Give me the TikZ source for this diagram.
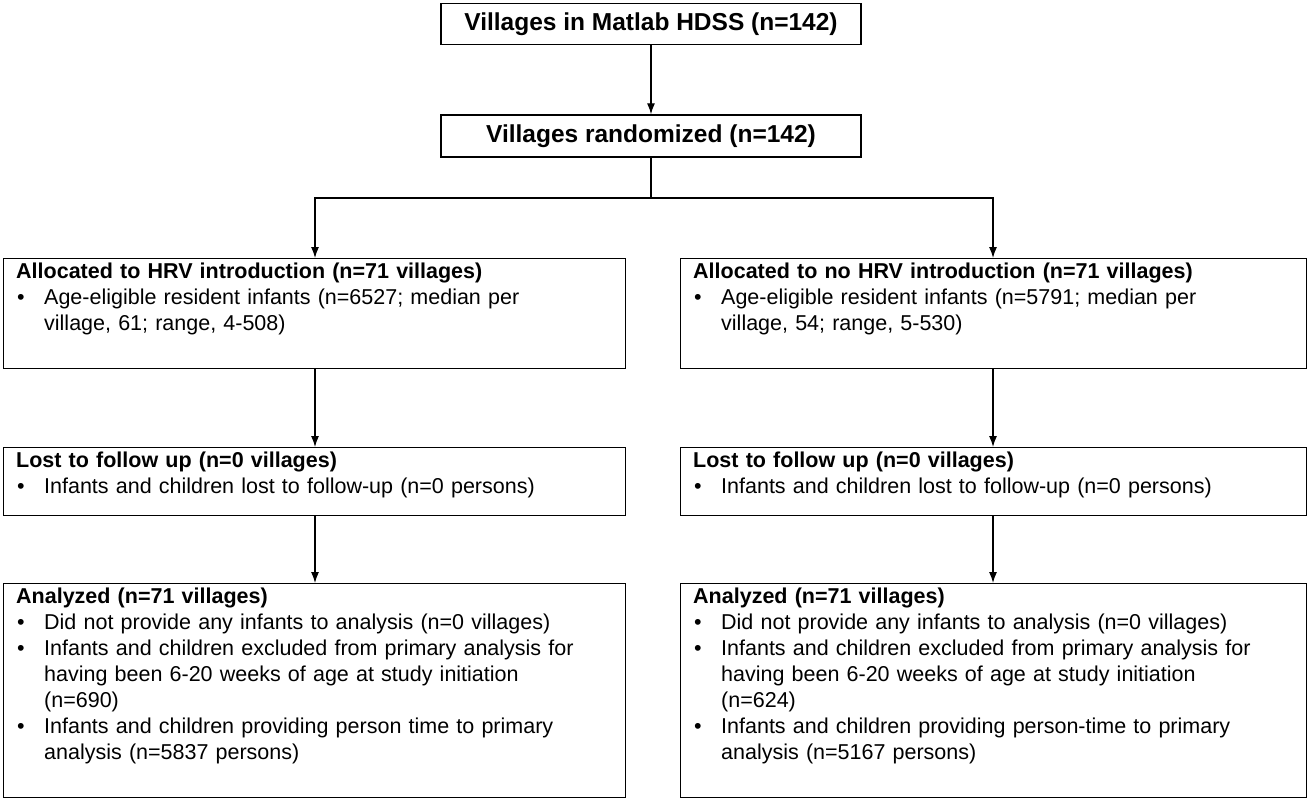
\documentclass[tikz,border=0pt]{standalone}
\usepackage{fontspec}
\setmainfont{Liberation Sans}
\usetikzlibrary{arrows.meta,positioning}
\newcommand{\bitem}[1]{\par\hangindent=28pt\hangafter=1\noindent\makebox[28pt][l]{\hspace{1pt}\textbullet}#1\par}
\begin{document}
\begin{tikzpicture}[x=1pt,y=-1pt,
      flowbox/.style={draw=black,line width=1.4pt,rectangle,inner sep=0pt},
      boxtext/.style={anchor=north west,inner sep=0pt,xshift=13pt,yshift=-5pt,
         text width=605pt,font=\fontsize{21.5}{26}\selectfont\raggedright},
      myarrow/.style={-{Latex[length=11pt,width=8pt]},line width=1.2pt}
      ]
      \useasboundingbox (0,0) rectangle (1309,800);
      % top
      \node[flowbox,minimum width=420pt,minimum height=41pt,
         font=\fontsize{24.5}{26}\selectfont\bfseries] (hdss) at (651,24) {Villages in Matlab HDSS (n=142)};
      \node[flowbox,minimum width=420pt,minimum height=42pt,
         font=\fontsize{24.5}{26}\selectfont\bfseries] (rand) at (651,136) {Villages randomized (n=142)};
      % left column
      \node[flowbox,anchor=north west,minimum width=622pt,minimum height=110pt] (alloc1) at (3,258) {};
      \node[flowbox,anchor=north west,minimum width=622pt,minimum height=68pt] (lost1) at (3,447) {};
      \node[flowbox,anchor=north west,minimum width=622pt,minimum height=214pt] (anal1) at (3,583) {};
      % right column
      \node[flowbox,anchor=north west,minimum width=626pt,minimum height=110pt] (alloc2) at (680,258) {};
      \node[flowbox,anchor=north west,minimum width=626pt,minimum height=68pt] (lost2) at (680,447) {};
      \node[flowbox,anchor=north west,minimum width=626pt,minimum height=214pt] (anal2) at (680,583) {};

      \node[boxtext] at (alloc1.north west) {\textbf{Allocated to HRV introduction (n=71 villages)}
         \bitem{Age-eligible resident infants (n=6527; median per\newline village, 61; range, 4-508)}};
      \node[boxtext] at (alloc2.north west) {\textbf{Allocated to no HRV introduction (n=71 villages)}
         \bitem{Age-eligible resident infants (n=5791; median per\newline village, 54; range, 5-530)}};
      \node[boxtext] at (lost1.north west) {\textbf{Lost to follow up (n=0 villages)}
         \bitem{Infants and children lost to follow-up (n=0 persons)}};
      \node[boxtext] at (lost2.north west) {\textbf{Lost to follow up (n=0 villages)}
         \bitem{Infants and children lost to follow-up (n=0 persons)}};
      \node[boxtext] at (anal1.north west) {\textbf{Analyzed (n=71 villages)}
         \bitem{Did not provide any infants to analysis (n=0 villages)}
         \bitem{Infants and children excluded from primary analysis for\newline having been 6-20 weeks of age at study initiation\newline (n=690)}
         \bitem{Infants and children providing person time to primary\newline analysis (n=5837 persons)}};
      \node[boxtext] at (anal2.north west) {\textbf{Analyzed (n=71 villages)}
         \bitem{Did not provide any infants to analysis (n=0 villages)}
         \bitem{Infants and children excluded from primary analysis for\newline having been 6-20 weeks of age at study initiation\newline (n=624)}
         \bitem{Infants and children providing person-time to primary\newline analysis (n=5167 persons)}};

      \coordinate (split) at (651,198);
      \draw[myarrow] (hdss) -- (rand);
      \draw[line width=1.2pt] (rand) -- (split);
      \draw[myarrow] (split) -| (alloc1.north west -| 315,0);
      \draw[myarrow] (split) -| (alloc2.north west -| 993,0);
      \draw[myarrow] (alloc1.south west -| 315,0) -- (lost1.north west -| 315,0);
      \draw[myarrow] (lost1.south west -| 315,0) -- (anal1.north west -| 315,0);
      \draw[myarrow] (alloc2.south west -| 993,0) -- (lost2.north west -| 993,0);
      \draw[myarrow] (lost2.south west -| 993,0) -- (anal2.north west -| 993,0);
\end{tikzpicture}
\end{document}
